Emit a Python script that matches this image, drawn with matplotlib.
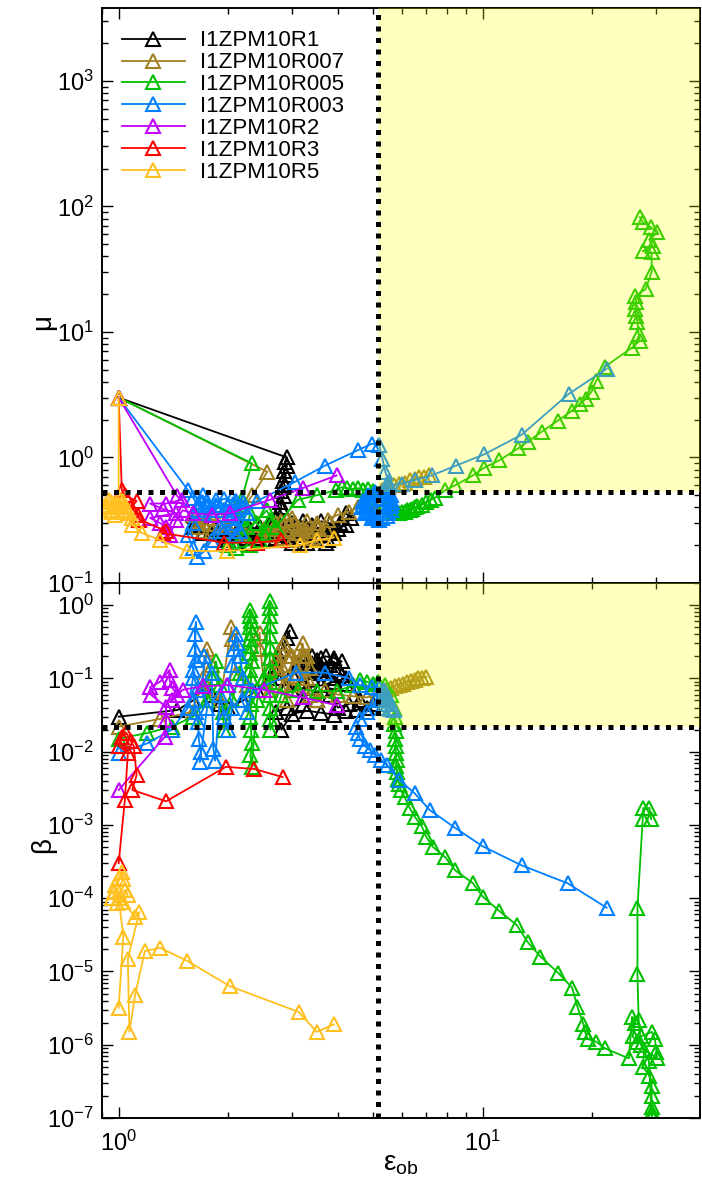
import numpy as np
import matplotlib
matplotlib.use("Agg")
import matplotlib.pyplot as plt
from matplotlib.ticker import LogLocator, NullFormatter

plt.rcParams['font.family'] = ['Liberation Sans', 'DejaVu Sans']
plt.rcParams['mathtext.fontset'] = 'custom'
plt.rcParams['mathtext.rm'] = 'Liberation Sans'

# ---- data (eps_ob, mu) and (eps_ob, beta) ----
labels = ['I1ZPM10R1', 'I1ZPM10R007', 'I1ZPM10R005', 'I1ZPM10R003',
          'I1ZPM10R2', 'I1ZPM10R3', 'I1ZPM10R5']
colors = ['#000000', '#a08020', '#00c000', '#0080ff', '#c000ff', '#ff0000', '#ffc020']

# R1
r1_eps_mu = [1.0, 2.9, 2.86, 2.9, 2.84, 2.88, 2.82, 2.86, 2.8, 2.84, 2.78, 2.8, 2.74, 2.7, 2.6,
             2.45, 2.3, 2.15, 2.0, 1.85, 1.72, 1.62, 1.65, 1.78, 1.95, 2.1, 2.25, 2.4, 2.55, 2.7,
             2.85, 3.0, 3.15, 3.3, 3.45, 3.6, 3.75, 3.9, 4.05, 4.2, 4.35, 4.2, 4.0, 3.8, 3.6,
             3.4, 3.2, 3.0, 2.8, 2.95, 3.3, 3.7, 3.8, 3.5, 3.2, 2.9, 2.6, 2.3, 2.0, 1.8, 1.7,
             1.6, 2.1, 2.4, 2.7, 3.0, 3.4]
r1_mu = [3.0, 1.0, 0.92, 0.85, 0.78, 0.72, 0.65, 0.6, 0.54, 0.49, 0.44, 0.4, 0.36, 0.33, 0.3,
         0.28, 0.27, 0.28, 0.26, 0.27, 0.3, 0.34, 0.29, 0.25, 0.24, 0.25, 0.23, 0.25, 0.24, 0.26,
         0.28, 0.25, 0.23, 0.25, 0.27, 0.24, 0.22, 0.25, 0.3, 0.36, 0.33, 0.29, 0.27, 0.3, 0.31,
         0.29, 0.31, 0.3, 0.28, 0.22, 0.21, 0.21, 0.26, 0.24, 0.26, 0.24, 0.22, 0.21, 0.22,
         0.22, 0.25, 0.28, 0.21, 0.23, 0.23, 0.21, 0.22]
r1_eps_beta = [1.0, 1.45, 1.6, 1.7, 1.8, 1.9, 2.0, 2.2, 2.4, 2.6, 2.75, 2.85, 2.95, 2.9, 2.8,
               2.7, 2.8, 2.9, 3.0, 3.1, 3.2, 3.3, 3.4, 3.5, 3.6, 3.7, 3.8, 3.9, 4.0, 4.1, 4.2,
               3.3, 3.5, 3.7, 3.9, 4.1, 3.8, 3.6, 3.4, 3.2, 3.0, 3.3, 3.6, 3.9, 4.2, 4.4, 4.6,
               4.3, 4.0, 3.8, 3.5, 3.2, 2.9, 2.7, 2.8, 3.0, 3.3, 3.6, 3.9, 4.2, 4.5, 4.8, 5.0]
r1_beta = [0.030, 0.037, 0.05, 0.07, 0.06, 0.045, 0.04, 0.05, 0.07, 0.1, 0.2, 0.3, 0.45, 0.36,
           0.25, 0.15, 0.1, 0.08, 0.12, 0.15, 0.18, 0.14, 0.2, 0.13, 0.19, 0.13, 0.1, 0.17,
           0.14, 0.11, 0.085, 0.16, 0.18, 0.2, 0.19, 0.17, 0.15, 0.12, 0.1, 0.09, 0.07, 0.075,
           0.08, 0.09, 0.1, 0.08, 0.05, 0.045, 0.04, 0.06, 0.05, 0.045, 0.04, 0.035, 0.02,
           0.033, 0.036, 0.034, 0.032, 0.036, 0.037, 0.04, 0.045]

# R007
r007_eps_mu = [1.0, 2.56, 2.33, 2.2, 1.9, 1.7, 1.6, 1.65, 1.8, 2.0, 2.2, 2.5, 2.7, 2.9, 3.05,
               3.2, 3.35, 3.5, 3.3, 3.1, 2.85, 2.65, 2.8, 3.0, 2.9, 3.1, 3.3, 3.5, 3.7, 3.4,
               3.0, 2.75, 2.6, 1.75, 1.65, 1.7, 3.6, 3.75, 4.0, 4.3, 4.55, 4.8, 5.0, 5.3, 5.5,
               5.7, 5.9, 6.1, 6.3, 6.5, 6.7, 6.9, 7.1]
r007_mu = [3.0, 0.77, 0.5, 0.4, 0.33, 0.3, 0.35, 0.28, 0.26, 0.28, 0.25, 0.27, 0.3, 0.26, 0.3,
           0.27, 0.24, 0.28, 0.31, 0.25, 0.23, 0.25, 0.31, 0.33, 0.32, 0.28, 0.26, 0.3, 0.27,
           0.23, 0.22, 0.27, 0.24, 0.33, 0.31, 0.26, 0.25, 0.32, 0.35, 0.37, 0.4, 0.42, 0.45,
           0.55, 0.58, 0.6, 0.62, 0.63, 0.66, 0.68, 0.7, 0.7, 0.72]
r007_eps_beta = [1.0, 1.3, 1.6, 1.7, 1.75, 1.8, 1.72, 1.9, 2.04, 2.05, 2.1, 2.25, 2.44, 2.45,
                 2.5, 2.6, 2.78, 2.8, 2.85, 2.9, 3.0, 3.1, 3.2, 3.25, 3.3, 3.35, 2.85, 2.95,
                 3.05, 3.15, 3.3, 3.35, 3.2, 3.0, 2.8, 2.7, 2.6, 3.5, 3.68, 4.0, 4.4, 4.8, 5.2,
                 5.45, 5.6, 5.75, 5.9, 6.05, 6.2, 6.35, 6.5, 6.65, 6.8, 7.0]
r007_beta = [0.022, 0.028, 0.035, 0.1, 0.25, 0.15, 0.07, 0.05, 0.5, 0.35, 0.12, 0.08, 0.42,
             0.25, 0.1, 0.07, 0.25, 0.15, 0.08, 0.05, 0.2, 0.12, 0.3, 0.2, 0.1, 0.06, 0.3, 0.2,
             0.15, 0.25, 0.2, 0.14, 0.1, 0.08, 0.12, 0.18, 0.14, 0.05, 0.069, 0.06, 0.057,
             0.055, 0.062, 0.072, 0.075, 0.078, 0.082, 0.085, 0.088, 0.092, 0.095, 0.1, 0.1,
             0.105]

# R005
r005_eps_mu = [1.0, 2.32, 2.18, 2.1, 2.15, 2.25, 2.3, 2.4, 2.5, 2.6, 2.45, 2.3, 2.1, 2.0, 2.2,
               2.55, 2.7, 3.1, 3.5, 3.95, 4.1, 4.25, 4.4, 4.55, 4.7, 4.85, 5.0, 5.2, 5.4, 5.5,
               5.6, 5.7, 5.8, 5.9, 6.0, 6.1, 6.2, 6.3, 6.4, 6.5, 6.6, 6.8, 7.0, 7.2, 7.4, 7.9,
               8.4, 9.4, 10.1, 11.1, 12.5, 13.3, 14.5, 16.1, 17.6, 18.5, 19.2, 19.9, 20.5, 21.7,
               25.7, 27.0, 26.8, 26.6, 26.4, 26.2, 26.4, 26.2, 28.0, 29.1, 29.1, 27.5, 29.3,
               28.7, 30.1, 29.0, 27.5, 27.0]
r005_mu = [3.0, 0.9, 0.47, 0.4, 0.33, 0.28, 0.36, 0.3, 0.25, 0.32, 0.22, 0.2, 0.19, 0.2, 0.24,
           0.38, 0.28, 0.46, 0.5, 0.55, 0.58, 0.57, 0.56, 0.57, 0.55, 0.56, 0.54, 0.48, 0.42,
           0.4, 0.38, 0.37, 0.36, 0.36, 0.37, 0.37, 0.38, 0.38, 0.39, 0.4, 0.41, 0.42, 0.44,
           0.46, 0.48, 0.55, 0.6, 0.72, 0.83, 0.95, 1.18, 1.34, 1.6, 1.97, 2.36, 2.68, 2.94,
           3.34, 4.1, 5.3, 7.5, 8.5, 9.6, 12, 13.4, 15.2, 17.3, 19.3, 21.9, 29.9, 43, 44, 48,
           54, 62, 68, 75, 82]
r005_eps_beta = [1.0, 1.2, 1.4, 1.6, 1.75, 1.8, 1.85, 1.9, 1.93, 1.95, 2.05, 2.15, 2.3, 2.3,
                 2.31, 2.3, 2.32, 2.3, 2.31, 2.3, 2.32, 2.3, 2.31, 2.3, 2.31, 2.3, 2.31, 2.32,
                 2.3, 2.32, 2.4, 2.5, 2.6, 2.6, 2.6, 2.61, 2.6, 2.61, 2.6, 2.6, 2.61, 2.6, 2.61,
                 2.6, 2.61, 2.8, 3.1, 3.5, 3.97, 4.4, 4.6, 4.8, 5.0, 5.15, 5.4, 5.6, 5.7, 5.75,
                 5.72, 5.76, 5.74, 5.78, 5.76, 5.8, 5.78, 5.82, 5.84, 5.9, 5.95, 6.1, 6.3, 6.5,
                 6.8, 7.0, 7.3, 7.9, 8.4, 9.4, 10.0, 11.1, 12.4, 13.3, 14.4, 16.1, 17.6, 18.2,
                 18.9, 19.1, 19.4, 20.5, 21.6, 25.2, 25.7, 26.2, 25.8, 26.6, 27.2, 29.1, 29.7,
                 30.0, 30.1, 27.8, 27.5, 28.7, 29.1, 29.1, 29.1, 29.1, 29.1, 28.6, 27.2, 26.8,
                 26.6, 26.6, 27.5, 27.6, 28.7, 29.0]
r005_beta = [0.015, 0.018, 0.022, 0.03, 0.05, 0.1, 0.17, 0.08, 0.035, 0.02, 0.05, 0.12, 0.85,
             0.7, 0.6, 0.5, 0.42, 0.35, 0.28, 0.22, 0.17, 0.13, 0.1, 0.07, 0.045, 0.03, 0.02,
             0.013, 0.009, 0.0062, 0.05, 0.1, 1.15, 0.9, 0.7, 0.52, 0.38, 0.27, 0.19, 0.13,
             0.09, 0.06, 0.04, 0.028, 0.02, 0.06, 0.07, 0.068, 0.067, 0.08, 0.095, 0.09, 0.085,
             0.088, 0.08, 0.06, 0.04, 0.03, 0.024, 0.019, 0.015, 0.012, 0.0095, 0.0078, 0.0064,
             0.0053, 0.0043, 0.0036, 0.003, 0.0024, 0.0017, 0.0013, 9.6e-4, 6.8e-4, 5.0e-4,
             3.6e-4, 2.4e-4, 1.6e-4, 1.05e-4, 6.7e-5, 4.3e-5, 2.5e-5, 1.6e-5, 9.6e-6, 6.0e-6,
             3.3e-6, 1.9e-6, 1.5e-6, 1.2e-6, 1.1e-6, 9.0e-7, 6.5e-7, 2.4e-6, 2.0e-6, 1.3e-6,
             1.1e-6, 1.3e-6, 1.5e-6, 1.2e-6, 8e-7, 6.5e-7, 8.6e-7, 5e-7, 3.8e-7, 2.7e-7, 2.0e-7,
             1.4e-7, 1.2e-7, 1.05e-7, 6e-7, 1.0e-6, 2.2e-6, 9.3e-6, 7.4e-5, 1.2e-3, 1.7e-3,
             1.7e-3, 1.2e-3]

# R003
r003_eps_mu = [1.0, 1.55, 1.6, 1.65, 1.7, 1.75, 1.8, 1.85, 1.9, 1.7, 1.6, 1.55, 1.6, 1.64,
               1.72, 1.8, 1.9, 2.0, 2.05, 2.1, 2.15, 2.05, 2.2, 2.1, 1.95, 1.75, 1.68, 1.65,
               1.75, 1.85, 1.95, 2.0, 2.1, 2.2, 2.25, 2.1, 1.95, 2.4, 3.05, 3.68, 4.53, 4.97,
               5.2, 5.3, 5.4, 5.5, 5.45, 5.6, 5.65, 5.6, 5.45, 5.2, 4.95, 4.75, 4.65, 4.7, 4.85,
               5.05, 5.25, 4.7, 4.8, 5.0, 5.3, 5.5, 5.6, 5.55, 5.35, 5.1, 4.9, 4.75, 4.9, 5.5,
               5.55, 5.35, 5.1, 4.9, 4.8, 4.85, 5.0, 5.3, 5.45, 5.5, 6.0, 6.5, 7.24, 8.43, 10.1,
               12.8, 17.2, 21.9]
r003_mu = [3.0, 0.55, 0.48, 0.42, 0.5, 0.45, 0.38, 0.46, 0.4, 0.36, 0.3, 0.24, 0.19, 0.16,
           0.18, 0.22, 0.28, 0.42, 0.35, 0.3, 0.26, 0.48, 0.4, 0.45, 0.47, 0.41, 0.44, 0.38,
           0.4, 0.42, 0.38, 0.33, 0.38, 0.44, 0.36, 0.24, 0.26, 0.45, 0.64, 0.86, 1.14, 1.29,
           1.25, 0.98, 0.77, 0.64, 0.55, 0.5, 0.44, 0.38, 0.34, 0.32, 0.33, 0.36, 0.4, 0.45,
           0.5, 0.53, 0.52, 0.42, 0.37, 0.34, 0.33, 0.36, 0.42, 0.48, 0.5, 0.5, 0.47, 0.4,
           0.36, 0.47, 0.41, 0.36, 0.35, 0.38, 0.42, 0.47, 0.5, 0.48, 0.52, 0.6, 0.62, 0.66,
           0.72, 0.86, 1.06, 1.52, 3.2, 5.1]
r003_eps_beta = [1.0, 1.2, 1.4, 1.55, 1.6, 1.62, 1.63, 1.62, 1.63, 1.6, 1.64, 1.61, 1.63, 1.65,
                 1.66, 1.68, 1.67, 1.75, 1.7, 1.72, 1.8, 1.82, 1.84, 1.9, 1.95, 2.0, 2.05, 2.0,
                 2.05, 2.08, 2.1, 2.12, 2.15, 2.2, 2.18, 2.25, 2.33, 3.07, 3.68, 4.3, 4.59, 4.95,
                 5.2, 5.35, 5.3, 5.4, 5.45, 5.35, 5.5, 5.3, 5.55, 5.45, 5.25, 5.6, 5.4, 5.7, 5.1,
                 4.8, 4.6, 4.5, 4.53, 4.6, 4.74, 4.9, 5.05, 5.25, 5.45, 5.9, 6.5, 7.15, 8.4, 10.0,
                 12.8, 17.1, 21.9]
r003_beta = [0.0095, 0.013, 0.02, 0.04, 0.1, 0.25, 0.59, 0.4, 0.18, 0.13, 0.07, 0.05, 0.035,
             0.025, 0.015, 0.01, 0.0072, 0.04, 0.08, 0.2, 0.12, 0.011, 0.0075, 0.06, 0.03, 0.02,
             0.04, 0.08, 0.15, 0.25, 0.4, 0.3, 0.2, 0.1, 0.05, 0.035, 0.069, 0.12, 0.12, 0.1,
             0.081, 0.076, 0.075, 0.07, 0.06, 0.055, 0.05, 0.045, 0.045, 0.04, 0.04, 0.06,
             0.05, 0.038, 0.065, 0.037, 0.05, 0.035, 0.028, 0.022, 0.018, 0.015, 0.012, 0.0105,
             0.0091, 0.0078, 0.0066, 0.0041, 0.0027, 0.0016, 9.1e-4, 5.1e-4, 2.8e-4, 1.6e-4,
             7.4e-5]

# R2
r2_eps_mu = [1.0, 1.45, 1.49, 1.35, 1.22, 1.32, 1.44, 1.22, 1.3, 1.35, 1.38, 1.44, 1.5, 1.6,
             1.8, 2.02, 2.6, 3.2, 3.97]
r2_mu = [3.0, 0.49, 0.46, 0.43, 0.43, 0.39, 0.36, 0.33, 0.3, 0.28, 0.24, 0.32, 0.38, 0.36,
         0.35, 0.36, 0.46, 0.57, 0.72]
r2_eps_beta = [1.0, 1.34, 1.35, 1.35, 1.23, 1.22, 1.3, 1.38, 1.38, 1.4, 1.45, 1.4, 1.5, 1.7,
               1.99, 2.5, 3.2, 3.97]
r2_beta = [0.003, 0.016, 0.027, 0.041, 0.059, 0.076, 0.09, 0.13, 0.095, 0.075, 0.06, 0.05,
           0.07, 0.078, 0.081, 0.07, 0.055, 0.043]

# R3
r3_eps_mu = [1.0, 1.02, 1.04, 1.12, 1.08, 1.13, 1.14, 1.35, 1.32, 1.95, 2.4, 2.8]
r3_mu = [3.0, 0.55, 0.5, 0.45, 0.4, 0.35, 0.32, 0.26, 0.25, 0.21, 0.21, 0.22]
r3_eps_beta = [1.0, 1.04, 1.06, 1.0, 1.02, 1.05, 1.08, 1.1, 1.12, 1.09, 1.35, 1.97, 2.36, 2.82]
r3_beta = [3.0e-4, 0.0022, 0.0096, 0.012, 0.016, 0.018, 0.014, 0.012, 0.0048, 0.003, 0.0021,
           0.0062, 0.0058, 0.0045]

# R5
r5_eps_mu = [1.0, 1.0, 0.95, 0.93, 0.96, 1.0, 1.03, 1.05, 0.98, 1.02, 0.92, 0.94, 0.97, 1.01,
             1.04, 0.95, 1.06, 1.09, 1.09, 1.16, 1.3, 1.54, 1.99, 3.14, 3.5, 3.9]
r5_mu = [3.0, 0.48, 0.44, 0.4, 0.37, 0.42, 0.45, 0.4, 0.35, 0.38, 0.42, 0.46, 0.43, 0.4, 0.37,
         0.38, 0.36, 0.33, 0.29, 0.25, 0.22, 0.18, 0.18, 0.2, 0.22, 0.23]
r5_eps_beta = [1.0, 1.03, 1.0, 0.97, 0.98, 1.0, 1.02, 1.03, 0.96, 0.99, 1.04, 1.06, 1.03, 1.11,
               1.14, 1.06, 1.07, 1.11, 1.18, 1.3, 1.54, 2.02, 3.12, 3.5, 3.9]
r5_beta = [3.2e-6, 3.0e-5, 1.0e-4, 1.2e-4, 1.5e-4, 1.9e-4, 2.3e-4, 1.8e-4, 1.0e-4, 8.5e-5,
           1.3e-4, 1.1e-4, 9.0e-5, 5.5e-5, 6.5e-5, 1.5e-5, 1.5e-6, 4.8e-6, 1.9e-5, 2.1e-5,
           1.4e-5, 6.3e-6, 2.8e-6, 1.5e-6, 1.9e-6]

top_x = [r1_eps_mu, r007_eps_mu, r005_eps_mu, r003_eps_mu, r2_eps_mu, r3_eps_mu, r5_eps_mu]
top_y = [r1_mu, r007_mu, r005_mu, r003_mu, r2_mu, r3_mu, r5_mu]
bot_x = [r1_eps_beta, r007_eps_beta, r005_eps_beta, r003_eps_beta, r2_eps_beta, r3_eps_beta, r5_eps_beta]
bot_y = [r1_beta, r007_beta, r005_beta, r003_beta, r2_beta, r3_beta, r5_beta]

eps_crit = 5.15
mu_crit = 0.53
beta_crit = 0.022
xlim = (0.9, 39.5)

fig = plt.figure(figsize=(7.02, 11.97), dpi=100)
ax1 = fig.add_axes([0.1453, 0.5129, 0.8518, 0.4804])
ax2 = fig.add_axes([0.1453, 0.0660, 0.8518, 0.4469])

style = dict(marker='^', markerfacecolor='none', markersize=10, markeredgewidth=1.5, linewidth=1.3)
for xs, ys, c, lab in zip(top_x, top_y, colors, labels):
    ax1.plot(xs, ys, color=c, label=lab, **style)
for xs, ys, c in zip(bot_x, bot_y, colors):
    ax2.plot(xs, ys, color=c, **style)

for ax, ylim, ycrit in [(ax1, (0.1, 3800), mu_crit), (ax2, (1e-7, 2.0), beta_crit)]:
    ax.set_xscale('log')
    ax.set_yscale('log')
    ax.set_xlim(*xlim)
    ax.set_ylim(*ylim)
    # shaded region drawn over the curves
    ax.fill_between([eps_crit, xlim[1]], ycrit, ylim[1], color='yellow', alpha=0.25,
                    linewidth=0, zorder=5)
    ax.axhline(ycrit, color='black', linewidth=3.6, dashes=(1, 1.3), zorder=6)
    ax.axvline(eps_crit, color='black', linewidth=3.6, dashes=(1, 1.3), zorder=6)
    ax.yaxis.set_major_locator(LogLocator(base=10, numticks=20))
    ax.yaxis.set_minor_locator(LogLocator(base=10, subs=np.arange(2, 10), numticks=20))
    ax.yaxis.set_minor_formatter(NullFormatter())
    ax.tick_params(which='both', direction='in', top=True, right=True, labelsize=17)
    ax.tick_params(which='major', length=8, width=1, pad=6)
    ax.tick_params(which='minor', length=4, width=1)
    for sp in ax.spines.values():
        sp.set_linewidth(1.4)

ax1.tick_params(axis='x', labelbottom=False)
ax2.tick_params(axis='x', pad=9)

ax1.set_ylabel('μ', fontsize=20)
ax2.set_ylabel('β', fontsize=20)
ax2.set_xlabel(r'ε$_{\mathregular{ob}}$', fontsize=20)
ax1.yaxis.set_label_coords(-0.076, 0.454)
ax2.yaxis.set_label_coords(-0.076, 0.51)
ax2.xaxis.set_label_coords(0.5, -0.062)

ax1.legend(loc='upper left', bbox_to_anchor=(0.033, 0.961), frameon=False, fontsize=16,
           handlelength=2.85, handletextpad=0.68, labelspacing=0.04, borderpad=0,
           borderaxespad=0)

fig.savefig('out.png', dpi=100)
